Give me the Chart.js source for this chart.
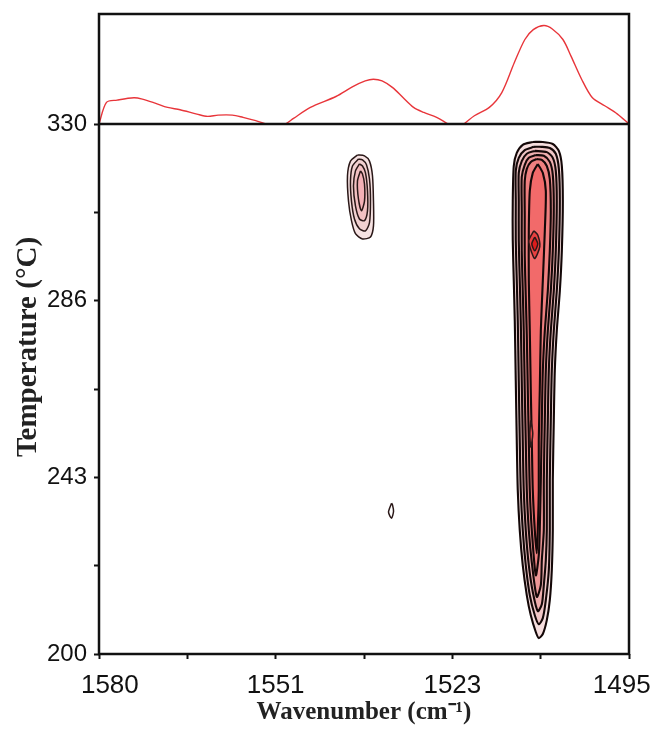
<!DOCTYPE html>
<html>
<head>
<meta charset="utf-8">
<script src="https://cdn.jsdelivr.net/npm/chart.js@4.4.1/dist/chart.umd.min.js"></script>
<style>
  html, body { margin: 0; background: #fff; }
</style>
</head>
<body>
<canvas id="c" width="657" height="729"></canvas>
<script>
// ---- axis ticks ----
const xTickValues = [1580, 1551.67, 1523.33, 1495];
const xTickLabels = ['1580', '1551', '1523', '1495'];
const yTickValues = [200, 243.33, 286.67, 330];
const yTickLabels = ['200', '243', '286', '330'];

// ---- top spectrum (red line) ----
const specWn = [1580, 1578.8, 1577.1, 1574.4, 1573.05, 1571.0, 1569.0, 1567.0, 1564.3, 1562.6, 1560.9, 1558.6, 1556.9, 1554.85, 1553.5, 1551.8, 1550.1, 1548.8, 1546.1, 1542.0, 1539.3, 1537.3, 1536.0, 1534.6, 1532.9, 1531.25, 1529.55, 1527.9, 1525.85, 1524.2, 1522.8, 1521.5, 1519.8, 1517.4, 1515.4, 1513.4, 1511.7, 1510.35, 1508.65, 1507.3, 1505.6, 1504.3, 1502.6, 1500.9, 1498.9, 1496.85, 1495];
const specAbs = [0, 19.6, 21.7, 23.8, 22.6, 19.0, 15.1, 13.0, 9.0, 6.9, 8.1, 8.1, 6.0, 3.0, 0.6, -4, 0, 5.1, 15.1, 25.0, 34.0, 39.2, 40.7, 39.2, 33.1, 24.1, 15.1, 10.5, 6.0, 0.6, -4, 0, 7.5, 15.1, 28.6, 55.7, 76.8, 85.8, 89.5, 86.4, 76.8, 61.7, 40.7, 24.1, 16.6, 9.0, 0];

// ---- contour rings, [wavenumber, temperature] ----
// big band near 1509 cm-1, outer to inner
const band1 = [[1510.43,325.6],[1512.04,324.9],[1513.00,322.9],[1513.48,319.7],[1513.64,311.1],[1513.64,301.4],[1513.48,291.6],[1513.32,281.8],[1513.16,267.1],[1513.00,252.4],[1512.84,240.2],[1512.52,230.4],[1512.04,221.8],[1511.39,214.4],[1510.75,209.5],[1509.95,205.4],[1509.47,203.9],[1508.82,204.9],[1508.18,208.3],[1507.70,213.2],[1507.38,220.6],[1507.22,230.4],[1507.22,242.6],[1507.06,257.3],[1506.90,269.5],[1506.58,279.3],[1506.09,289.1],[1505.77,298.9],[1505.61,311.1],[1505.77,319.7],[1506.25,323.4],[1507.22,325.1],[1508.82,325.6],[1510.43,325.6]];
const band2 = [[1510.27,324.4],[1511.72,323.6],[1512.68,321.7],[1513.16,318.5],[1513.16,311.1],[1513.16,301.4],[1513.00,291.6],[1512.84,281.8],[1512.68,267.1],[1512.52,252.4],[1512.36,240.2],[1512.04,230.4],[1511.56,221.8],[1510.91,214.4],[1510.11,209.5],[1509.47,207.3],[1508.82,208.8],[1508.34,213.2],[1507.86,220.6],[1507.70,230.4],[1507.70,242.6],[1507.54,257.3],[1507.38,269.5],[1507.06,279.3],[1506.58,289.1],[1506.25,298.9],[1506.09,311.1],[1506.25,319.0],[1506.74,322.7],[1507.70,324.1],[1508.98,324.4],[1510.27,324.4]];
const band3 = [[1510.11,323.4],[1511.39,322.7],[1512.20,320.9],[1512.68,318.0],[1512.68,311.1],[1512.68,301.4],[1512.52,291.6],[1512.36,281.8],[1512.20,267.1],[1512.04,252.4],[1511.88,240.2],[1511.56,230.4],[1511.07,221.8],[1510.43,215.2],[1509.63,210.5],[1508.98,212.2],[1508.66,216.9],[1508.34,223.0],[1508.18,230.4],[1508.18,242.6],[1508.02,257.3],[1507.86,269.5],[1507.54,279.3],[1507.06,289.1],[1506.74,298.9],[1506.58,311.1],[1506.74,318.5],[1507.22,321.7],[1508.18,323.1],[1510.11,323.4]];
const band4 = [[1509.95,322.4],[1511.07,321.7],[1511.72,320.0],[1512.20,317.0],[1512.20,308.7],[1512.20,298.9],[1512.04,289.1],[1511.88,279.3],[1511.72,264.6],[1511.56,252.4],[1511.39,240.2],[1511.07,230.4],[1510.59,222.5],[1509.79,214.0],[1509.14,216.9],[1508.98,223.0],[1508.66,230.4],[1508.66,242.6],[1508.50,257.3],[1508.34,269.5],[1508.02,279.3],[1507.54,289.1],[1507.22,298.9],[1507.06,309.9],[1507.22,317.5],[1507.70,320.7],[1508.66,322.2],[1509.95,322.4]];
const band5 = [[1509.79,321.4],[1510.75,320.7],[1511.39,319.0],[1511.72,316.0],[1511.72,307.5],[1511.72,297.7],[1511.56,287.9],[1511.39,278.1],[1511.23,264.6],[1511.07,252.4],[1510.91,240.2],[1510.59,230.4],[1509.95,219.3],[1509.47,224.2],[1509.31,230.4],[1509.14,242.6],[1508.98,257.3],[1508.82,269.5],[1508.50,279.3],[1508.02,289.1],[1507.70,298.9],[1507.54,308.7],[1507.70,316.5],[1508.18,319.7],[1508.98,321.2],[1509.79,321.4]];
const band6 = [[1509.63,320.2],[1510.43,318.0],[1510.91,313.6],[1511.07,303.8],[1511.07,291.6],[1510.91,279.3],[1510.75,264.6],[1510.59,252.4],[1510.43,240.2],[1510.11,230.4],[1509.79,224.7],[1509.63,230.4],[1509.47,240.2],[1509.47,252.4],[1509.31,264.6],[1509.14,279.3],[1508.82,291.6],[1508.50,303.8],[1508.34,313.6],[1508.82,318.0],[1509.63,320.2]];
const band7 = [[1510.27,303.8],[1511.07,301.4],[1510.59,298.4],[1510.11,297.0],[1509.31,299.9],[1509.63,302.8],[1510.27,303.8]];
const band8 = [[1510.11,302.3],[1510.59,300.6],[1510.11,298.9],[1509.63,300.6],[1510.11,302.3]];
const band9 = [[1510.75,257.3],[1510.91,254.1],[1510.75,250.7],[1510.43,254.1],[1510.75,257.3]];
// small peak near 1538 cm-1
const spot1 = [[1538.55,322.4],[1539.67,320.9],[1540.15,317.3],[1539.99,311.1],[1539.51,306.3],[1538.87,303.1],[1537.74,301.8],[1536.46,302.3],[1535.98,305.0],[1535.98,311.1],[1536.14,317.3],[1536.62,320.9],[1537.42,322.2],[1538.55,322.4]];
const spot2 = [[1538.39,321.4],[1539.35,319.7],[1539.67,316.0],[1539.51,311.1],[1539.03,306.7],[1538.23,304.3],[1537.26,303.8],[1536.62,305.8],[1536.46,311.1],[1536.62,316.5],[1537.10,320.0],[1537.74,321.2],[1538.39,321.4]];
const spot3 = [[1538.23,320.2],[1538.87,318.5],[1539.19,314.8],[1538.87,309.9],[1538.23,306.7],[1537.42,306.3],[1536.94,308.7],[1536.94,313.6],[1537.26,318.0],[1537.74,319.7],[1538.23,320.2]];
const spot4 = [[1538.07,318.5],[1538.55,316.0],[1538.39,311.6],[1537.91,308.7],[1537.42,311.1],[1537.42,315.3],[1537.74,317.7],[1538.07,318.5]];
// tiny isolated contour
const tiny1 = [[1533.08,237.0],[1533.57,234.8],[1533.08,233.3],[1532.76,235.0],[1532.92,236.5],[1533.08,237.0]];

const contourRings = [band1, band2, band3, band4, band5, band6, band7, band8, band9, spot1, spot2, spot3, spot4, tiny1];
const contourFills = ['#f6dede', '#f1c6c6', '#eeafaf', '#ed9797', '#ef8080', '#f26a6a', '#e84040', '#dc1c1c', '#e85050', '#f6e2e2', '#f1d0d0', '#f2c0c2', '#f4b0b6', '#ffffff'];

const frame = {
  id: 'frame',
  afterDatasetsDraw(chart) {
    const { ctx, scales } = chart;
    const x = scales.x, y = scales.y, ys = scales.ys;
    ctx.save();
    ctx.strokeStyle = '#111';
    ctx.lineWidth = 2.5;
    ctx.strokeRect(x.left, ys.top, x.right - x.left, y.bottom - ys.top);
    ctx.beginPath();
    ctx.moveTo(x.left, y.top);
    ctx.lineTo(x.right, y.top);
    ctx.stroke();
    // y axis title
    ctx.translate(29, 347);
    ctx.rotate(-Math.PI / 2);
    ctx.fillStyle = '#222';
    ctx.font = 'bold 29px "Liberation Serif"';
    ctx.textAlign = 'center';
    ctx.textBaseline = 'middle';
    ctx.fillText('Temperature (°C)', 0, 0);
    ctx.restore();
  }
};

function withMinors(majors) {
  const all = [];
  for (let i = 0; i < majors.length; i++) {
    all.push(majors[i]);
    if (i < majors.length - 1) all.push((majors[i] + majors[i + 1]) / 2);
  }
  return all.map(v => ({ value: v }));
}
function labelFor(values, labels) {
  return v => {
    const i = values.findIndex(t => Math.abs(t - v) < 1e-6);
    return i >= 0 ? labels[i] : '';
  };
}

const datasets = contourRings.map((ring, i) => ({
  data: ring.map(p => ({ x: p[0], y: p[1] })),
  yAxisID: 'y',
  borderColor: i < 6 ? '#140808' : '#2a1818',
  borderWidth: i < 6 ? 2.1 : 1.5,
  backgroundColor: contourFills[i],
  fill: 'shape',
  pointRadius: 0,
  tension: 0.25,
  order: contourRings.length - i + 1
}));
datasets.push({
  data: specWn.map((w, i) => ({ x: w, y: specAbs[i] })),
  yAxisID: 'ys',
  borderColor: '#e8353a',
  borderWidth: 1.4,
  pointRadius: 0,
  tension: 0.3,
  fill: false,
  order: 0
});

new Chart(document.getElementById('c'), {
  type: 'line',
  data: { datasets },
  plugins: [frame],
  options: {
    responsive: false,
    animation: false,
    layout: { padding: { top: 14, right: 28, left: 0, bottom: 0 } },
    plugins: { legend: { display: false }, tooltip: { enabled: false } },
    scales: {
      x: {
        type: 'linear', min: 1495, max: 1580, reverse: true,
        afterBuildTicks: s => { s.ticks = withMinors(xTickValues); },
        afterFit: s => { s.height = 75; s.paddingLeft = 0; s.paddingRight = 0; },
        ticks: {
          autoSkip: false, maxRotation: 0, padding: 11, color: '#111',
          font: { family: 'Liberation Sans', size: 26 },
          callback: (v, i, all) => {
            const t = labelFor(xTickValues, xTickLabels)(v);
            // nudge the two end labels inward, as in the figure
            if (i === 0) return '   ' + t;
            if (i === all.length - 1) return t + '  ';
            return t;
          }
        },
        grid: { drawOnChartArea: false, tickLength: 5, tickWidth: 2, tickColor: '#111' },
        border: { display: false },
        title: {
          display: true, text: 'Wavenumber (cm⁻¹)', color: '#222',
          font: { family: 'Liberation Serif', size: 25, weight: 'bold' },
          padding: { top: 0, bottom: 1 }
        }
      },
      y: {
        type: 'linear', position: 'left', stack: 'v', stackWeight: 530,
        min: 200, max: 330,
        afterBuildTicks: s => { s.ticks = withMinors(yTickValues); },
        afterFit: s => { s.width = 99; s.paddingTop = 0; s.paddingBottom = 0; },
        ticks: {
          autoSkip: false, padding: 7, color: '#111',
          font: { family: 'Liberation Sans', size: 24 },
          callback: labelFor(yTickValues, yTickLabels)
        },
        grid: { drawOnChartArea: false, tickLength: 5, tickWidth: 2, tickColor: '#111' },
        border: { display: false }
      },
      ys: {
        type: 'linear', position: 'left', stack: 'v', stackWeight: 110,
        min: 0, max: 100,
        afterFit: s => { s.paddingTop = 0; s.paddingBottom = 0; },
        ticks: { display: false },
        grid: { display: false },
        border: { display: false }
      }
    }
  }
});
</script>
</body>
</html>
